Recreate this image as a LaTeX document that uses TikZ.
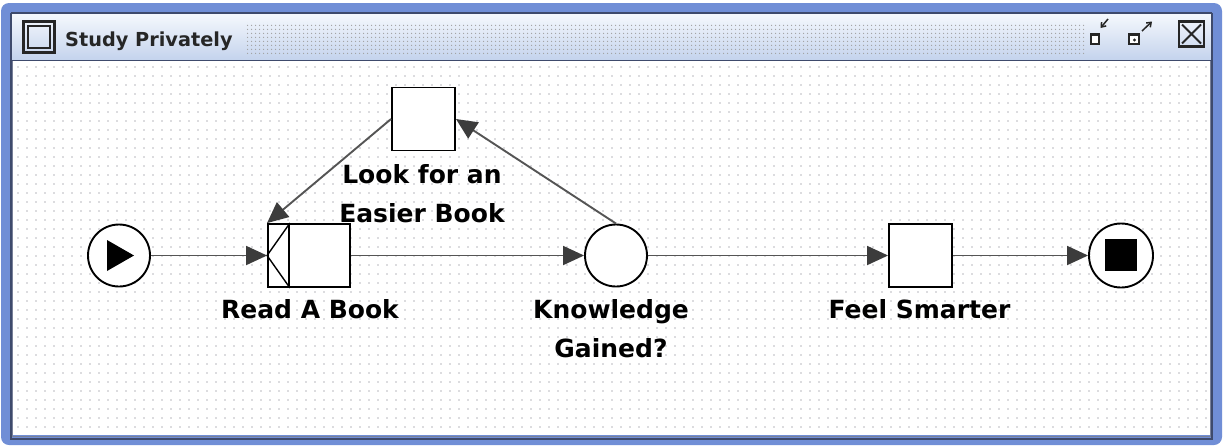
\documentclass[tikz,border=0pt]{standalone}
\usepackage{fontspec}
\setmainfont{DejaVu Sans}
\usetikzlibrary{arrows.meta,patterns.meta,shapes.geometric}
\definecolor{winblue}{RGB}{112,142,214}
\definecolor{windark}{RGB}{62,74,108}
\definecolor{titletop}{RGB}{246,249,253}
\definecolor{titlebot}{RGB}{196,211,237}
\definecolor{flowgray}{RGB}{85,85,85}
\definecolor{tipgray}{RGB}{60,60,60}
\definecolor{dotgray}{RGB}{185,185,192}
\tikzset{
  taskbox/.style={draw=black, line width=1.9pt, fill=white, minimum width=63pt, minimum height=63pt, inner sep=0pt},
  evcircle/.style={circle, draw=black, line width=1.9pt, fill=white, minimum size=62pt, inner sep=0pt},
  flow/.style={draw=flowgray, line width=1.9pt, -{Triangle[length=21pt,width=19pt,fill=tipgray,color=tipgray]}},
  lbl/.style={font=\fontsize{25}{39}\selectfont\bfseries, text=black, inner sep=0pt, align=center},
}
\begin{document}
\begin{tikzpicture}[x=1pt,y=-1pt]
\useasboundingbox (0,0) rectangle (1223,445);
\fill[white] (0,0) rectangle (1223,445);
% window frame
\fill[winblue, rounded corners=8pt] (1,3) rectangle (1222,445);
\shade[top color=titletop, bottom color=titlebot] (11,13) rectangle (1212,60);
\draw[windark, line width=1.6pt] (11,13) -- (1212,13);
\fill[pattern={Dots[distance=4pt,radius=0.8pt]}, pattern color=gray!75] (245,22) rectangle (1085,54);
\fill[white] (13,61) rectangle (1210,435);
\fill[pattern={Dots[distance=9pt,radius=0.85pt]}, pattern color=dotgray] (14,62) rectangle (1209,434);
\draw[windark, line width=1.6pt] (11,60.5) -- (1212,60.5);
\draw[windark!70, line width=1pt] (12.5,61) -- (12.5,436) -- (1210.5,436) -- (1210.5,61);
\draw[windark, line width=1.4pt] (11,13) -- (11,439) -- (1212,439) -- (1212,13);
% title icon and text
\draw[black!85, line width=2.6pt] (23.5,21.5) rectangle (54.5,52.5);
\draw[black!85, line width=1.3pt] (28,26) rectangle (50,48);
\node[anchor=base west, inner sep=0pt, font=\fontsize{19.3}{22}\selectfont\bfseries, text=black!85] (title) at (65,46.5) {Study Privately};
% right icons
\draw[black!85, line width=2.2pt, fill=white] (1091,34.5) rectangle (1099,44);
\draw[black!85, line width=1.5pt, -{Straight Barb[length=4pt,width=6pt]}] (1108,19) -- (1100.5,28);
\draw[black!85, line width=2.2pt, fill=white] (1129,34.5) rectangle (1139,44);
\fill[black!85] (1134.5,40) circle (1.6pt);
\draw[black!85, line width=1.5pt, -{Straight Barb[length=4pt,width=6pt]}] (1142,31) -- (1152,21.5);
\draw[black!85, line width=2.2pt] (1179,21.5) rectangle (1204,46.5);
\draw[black!85, line width=1.8pt] (1182,24.5) -- (1201,43.5) (1201,24.5) -- (1182,43.5);
% nodes
\node[evcircle] (start) at (119,255.5) {};
\fill[black] (107,240) -- (107,271) -- (134,255.5) -- cycle;
\node[taskbox, minimum width=61pt] (read) at (319.5,255.5) {};
\node[taskbox, minimum width=21pt] (readj) at (278.5,255.5) {};
\draw[black, line width=1.4pt] (readj.north east) -- (readj.west) -- (readj.south east);
\node[taskbox] (look) at (423.5,119) {};
\node[evcircle] (know) at (616,255.5) {};
\node[taskbox] (feel) at (920.5,255.5) {};
\node[evcircle, minimum size=64pt] (end) at (1121,255.5) {};
\fill[black] (1105,239) rectangle (1137,271);
% labels
\node[lbl, anchor=base] (lread) at (310,318) {Read A Book};
\node[lbl, anchor=north] (llook) at (422,164) {Look for an\\Easier Book};
\node[lbl, anchor=north] (lknow) at (611,299) {Knowledge\\Gained?};
\node[lbl, anchor=base] (lfeel) at (919.5,318) {Feel Smarter};
% connectors
\draw[flow] (start) -- (readj);
\draw[flow] (read) -- (know);
\draw[flow] (know) -- (feel);
\draw[flow] (feel) -- (end);
\draw[flow] (know.north) -- (look.east);
\draw[flow] (look.west) -- (readj.north west);
\end{tikzpicture}
\end{document}
